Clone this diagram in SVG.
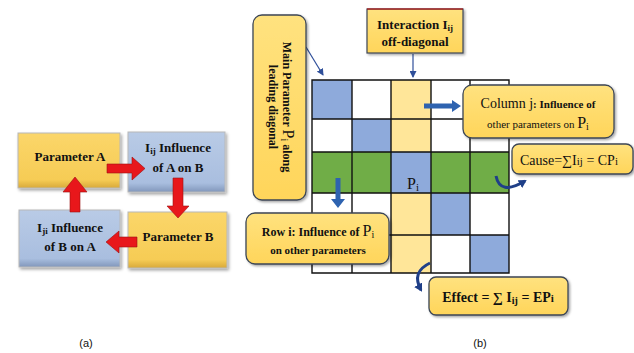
<svg xmlns="http://www.w3.org/2000/svg" width="634" height="353" viewBox="0 0 634 353">
<defs>
<style>
text{font-family:"Liberation Serif","DejaVu Serif",serif;fill:#111;}
.b{font-weight:bold;}
.lab{font-family:"Liberation Sans",Arial,sans-serif;font-size:11px;}
.call{fill:url(#gy);stroke:#3c4656;stroke-width:1.3;filter:url(#sh);}
.ybox{fill:url(#gyb);stroke:#b8b8b8;stroke-width:1;filter:url(#sh2);}
.bbox{fill:url(#gbb);stroke:#b8b8b8;stroke-width:1;filter:url(#sh2);}
.red{fill:#e8171b;stroke:#9a1010;stroke-width:0.6;}
.cb{fill:#8eaadb;}
.cy{fill:#ffe699;}
.cw{fill:#ffffff;}
.cg{fill:#70ad47;}
.grid{stroke:#111;stroke-width:1.4;fill:none;}
.barrow{fill:#2e63b0;}
.thin{stroke:#2f4f9a;stroke-width:1.2;fill:none;}
.curve{stroke:#1f3f88;stroke-width:3;fill:none;}
</style>
<linearGradient id="gy" x1="0" y1="0" x2="0" y2="1"><stop offset="0" stop-color="#ffe27f"/><stop offset="1" stop-color="#ffd55a"/></linearGradient>
<linearGradient id="gyb" x1="0" y1="0" x2="0" y2="1"><stop offset="0" stop-color="#fbd66a"/><stop offset="0.85" stop-color="#f6cc55"/><stop offset="1" stop-color="#d8a93a"/></linearGradient>
<linearGradient id="gbb" x1="0" y1="0" x2="0" y2="1"><stop offset="0" stop-color="#b9cbe6"/><stop offset="0.85" stop-color="#a9bedf"/><stop offset="1" stop-color="#8197bb"/></linearGradient>
<filter id="sh" x="-10%" y="-10%" width="130%" height="130%"><feDropShadow dx="1.5" dy="1.5" stdDeviation="1" flood-color="#000" flood-opacity="0.35"/></filter>
<filter id="sh2" x="-10%" y="-10%" width="130%" height="130%"><feDropShadow dx="1.5" dy="2" stdDeviation="1.5" flood-color="#000" flood-opacity="0.35"/></filter>
<marker id="ah" markerWidth="7" markerHeight="7" refX="6" refY="3.5" orient="auto" markerUnits="userSpaceOnUse"><path d="M0,0 L7,3.5 L0,7 Z" fill="#2f4f9a"/></marker>
<marker id="ah2" markerWidth="9" markerHeight="9" refX="6" refY="4.5" orient="auto" markerUnits="userSpaceOnUse"><path d="M0,0 L8,4.5 L0,9 Z" fill="#1f3f88"/></marker>
</defs>
<rect width="634" height="353" fill="#ffffff"/>

<!-- Panel (a) -->
<g id="paramA"><rect class="ybox" x="18" y="133" width="102" height="55"/><text class="b" x="70" y="161" font-size="13" text-anchor="middle">Parameter A</text></g>
<g id="iij"><rect class="bbox" x="128" y="132" width="97" height="60"/><text class="b" x="178" y="152" font-size="13" text-anchor="middle">I<tspan font-size="9" dy="2">ij</tspan><tspan dy="-2"> Influence</tspan></text><text class="b" x="178" y="172" font-size="13" text-anchor="middle">of A on B</text></g>
<g id="paramB"><rect class="ybox" x="128" y="212" width="99" height="56"/><text class="b" x="178" y="241" font-size="13" text-anchor="middle">Parameter B</text></g>
<g id="iji"><rect class="bbox" x="19" y="210" width="101" height="57"/><text class="b" x="70" y="232" font-size="13" text-anchor="middle">I<tspan font-size="9" dy="2">ji</tspan><tspan dy="-2"> Influence</tspan></text><text class="b" x="70" y="251" font-size="13" text-anchor="middle">of B on A</text></g>

<g id="connectors-a">
<path class="red" d="M107,164 L132,164 L132,157 L145,168.5 L132,180 L132,173 L107,173 Z"/>
<path class="red" d="M173,178 L183,178 L183,206 L189,206 L178,218 L167,206 L173,206 Z"/>
<path class="red" d="M137,237 L119,237 L119,231 L106,242 L119,253 L119,247 L137,247 Z"/>
<path class="red" d="M70,212 L80,212 L80,192 L87,192 L75,177 L63,192 L70,192 Z"/>
</g>

<!-- Panel (b) grid -->
<g id="matrix">
<rect class="cb" x="312" y="80" width="40" height="39"/><rect class="cw" x="352" y="80" width="39" height="39"/><rect class="cy" x="391" y="80" width="40" height="39"/><rect class="cw" x="431" y="80" width="39" height="39"/><rect class="cw" x="470" y="80" width="39" height="39"/>
<rect class="cw" x="312" y="119" width="40" height="33"/><rect class="cb" x="352" y="119" width="39" height="33"/><rect class="cy" x="391" y="119" width="40" height="33"/><rect class="cw" x="431" y="119" width="39" height="33"/><rect class="cw" x="470" y="119" width="39" height="33"/>
<rect class="cg" x="312" y="152" width="40" height="41"/><rect class="cg" x="352" y="152" width="39" height="41"/><rect class="cb" x="391" y="152" width="40" height="41"/><rect class="cg" x="431" y="152" width="39" height="41"/><rect class="cg" x="470" y="152" width="39" height="41"/>
<rect class="cw" x="312" y="193" width="40" height="42"/><rect class="cw" x="352" y="193" width="39" height="42"/><rect class="cy" x="391" y="193" width="40" height="42"/><rect class="cb" x="431" y="193" width="39" height="42"/><rect class="cw" x="470" y="193" width="39" height="42"/>
<rect class="cw" x="312" y="235" width="40" height="38"/><rect class="cw" x="352" y="235" width="39" height="38"/><rect class="cy" x="391" y="235" width="40" height="38"/><rect class="cw" x="431" y="235" width="39" height="38"/><rect class="cb" x="470" y="235" width="39" height="38"/>
<path class="grid" d="M312,80 H509 V273 H312 Z M352,80 V273 M391,80 V273 M431,80 V273 M470,80 V273 M312,119 H509 M312,152 H509 M312,193 H509 M312,235 H509"/>
<text x="407" y="189" font-size="16">P<tspan font-size="11" dy="2">i</tspan></text>
</g>

<g id="connectors-b">
<path class="thin" d="M306,47 L323,75" marker-end="url(#ah)"/>
<path class="thin" d="M413,54 L413,77" marker-end="url(#ah)"/>
<path class="barrow" d="M424,103.5 L452,103.5 L452,100 L461,106 L452,112 L452,108.5 L424,108.5 Z"/>
<path class="barrow" d="M335.5,178 L340.5,178 L340.5,199 L345,199 L338,208 L331,199 L335.5,199 Z"/>
<path class="curve" d="M496,176 Q500,196 525,181" marker-end="url(#ah2)"/>
<path class="curve" d="M430,263 Q411,272 421,290" marker-end="url(#ah2)"/>
</g>

<g id="mainParam"><rect class="call" x="253" y="15" width="53" height="185" rx="9"/>
<text class="b" transform="translate(283,107) rotate(90)" font-size="12" text-anchor="middle">Main Parameter <tspan font-size="16" font-weight="normal">P</tspan><tspan font-size="10" dy="2" font-weight="normal">i</tspan><tspan dy="-2"> along</tspan></text>
<text class="b" transform="translate(269,107) rotate(90)" font-size="12" text-anchor="middle">leading diagonal</text></g>

<g id="interaction"><rect x="367" y="9" width="96" height="44" fill="url(#gy)" stroke="#3c4656" stroke-width="1.2" filter="url(#sh)"/><line x1="367" y1="9" x2="463" y2="9" stroke="#c00000" stroke-width="1.2"/>
<text class="b" x="415" y="29" font-size="13" text-anchor="middle">Interaction I<tspan font-size="9" dy="2">ij</tspan></text>
<text class="b" x="415" y="46" font-size="13" text-anchor="middle">off-diagonal</text></g>

<g id="columnJ"><rect class="call" x="463" y="85" width="151" height="53" rx="9"/>
<text x="538" y="108" font-size="14" text-anchor="middle">Column j<tspan font-size="11" font-weight="bold">: Influence of</tspan></text>
<text x="538" y="128" font-size="11" text-anchor="middle">other parameters on <tspan font-size="16">P</tspan><tspan font-size="10" dy="2">i</tspan></text></g>

<g id="cause"><rect class="call" x="512" y="144" width="121" height="30" rx="7"/>
<text x="569" y="165" font-size="14" text-anchor="middle">Cause=∑I<tspan font-size="11">ij</tspan> = CP<tspan font-size="11">i</tspan></text></g>

<g id="rowI"><rect class="call" x="246" y="213" width="143" height="51" rx="9"/>
<text x="318" y="236" font-size="12" text-anchor="middle"><tspan font-weight="bold">Row i: Influence of </tspan><tspan font-size="16">P</tspan><tspan font-size="10" dy="2">i</tspan></text>
<text class="b" x="318" y="254" font-size="11" text-anchor="middle">on other parameters</text></g>

<g id="effect"><rect class="call" x="429" y="277" width="139" height="38" rx="7"/>
<text class="b" x="498" y="302" font-size="14" text-anchor="middle">Effect = ∑ I<tspan font-size="10" dy="2">ij</tspan><tspan dy="-2"> = EP</tspan><tspan font-size="11">i</tspan></text></g>

<text class="lab" x="86" y="347" text-anchor="middle">(a)</text>
<text class="lab" x="480" y="347" text-anchor="middle">(b)</text>
</svg>
